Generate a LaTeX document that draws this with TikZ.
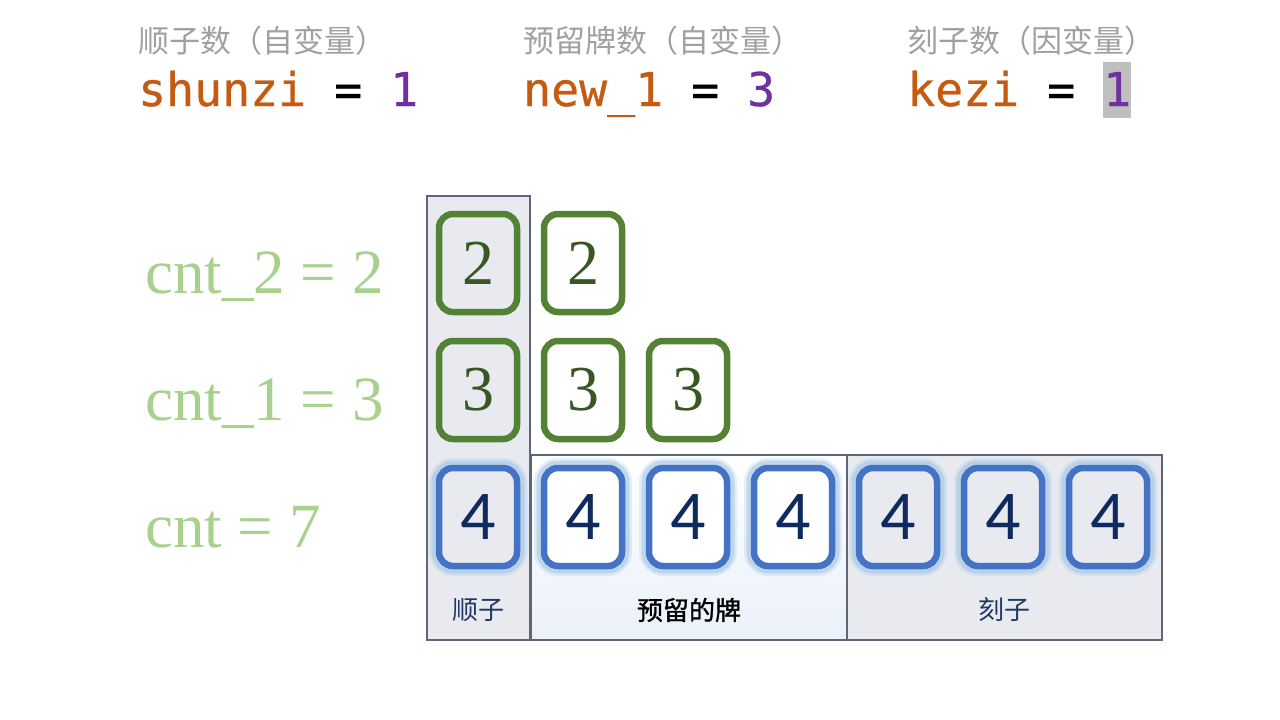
\documentclass[tikz,border=0pt]{standalone}
\usepackage{fontspec}
\setmainfont{Liberation Serif}
\newfontfamily\cjk{Noto Sans CJK SC}
\newfontfamily\cjkbold[FakeBold=1.2]{Noto Sans CJK SC}
\newfontfamily\codefont[FakeBold=0.6]{DejaVu Sans Mono}
\newfontfamily\tilefont{Carlito}
\usepackage{xcolor}
\definecolor{labelgray}{HTML}{A0A0A0}
\definecolor{varorange}{HTML}{C55A11}
\definecolor{numpurple}{HTML}{7030A0}
\definecolor{hlgray}{HTML}{BFBFBF}
\definecolor{cntgreen}{HTML}{A9D18E}
\definecolor{tilegreen}{HTML}{548235}
\definecolor{digitgreen}{HTML}{385723}
\definecolor{tileblue}{HTML}{4472C4}
\definecolor{glowblue}{HTML}{9DC3E6}
\definecolor{digitblue}{HTML}{0F2A5E}
\definecolor{panelgray}{HTML}{E8EAF0}
\definecolor{paneltint}{HTML}{EAF1FA}
\definecolor{panelline}{HTML}{5F6677}
\definecolor{navy}{HTML}{1F3864}
\tikzset{
  toplabel/.style={anchor=base west, inner sep=0pt, text=labelgray, font=\cjk\fontsize{31}{36}\selectfont},
  codeline/.style={anchor=base west, inner sep=0pt, font=\codefont\fontsize{46.5}{56}\selectfont},
  cntlabel/.style={anchor=base west, inner sep=0pt, text=cntgreen, font=\fontsize{63}{70}\selectfont},
  panel/.style={draw=panelline, line width=1.2pt},
  tile/.style={draw, rounded corners=14pt, line width=6.5pt, minimum width=78pt, minimum height=98pt, inner sep=0pt},
  greentile/.style={tile, draw=tilegreen, text=digitgreen, font=\fontsize{64}{66}\selectfont},
  bluetile/.style={tile, draw=tileblue, text=digitblue, font=\tilefont\fontsize{70}{72}\selectfont,
    preaction={draw=glowblue, line width=20pt, opacity=.25},
    preaction={draw=glowblue, line width=15pt, opacity=.5}},
  panellabel/.style={font=\cjk\fontsize{26}{30}\selectfont, inner sep=0pt}
}
\newcommand{\colx}[1]{478+105*(#1-1)}
\begin{document}
\begin{tikzpicture}[x=1pt,y=-1pt]
\useasboundingbox (0,0) rectangle (1280,720);
% variables at the top
\node[toplabel] (lshunzi) at (138,52) {顺子数（自变量）};
\node[toplabel] (lnew) at (523,52) {预留牌数（自变量）};
\node[toplabel] (lkezi) at (907,52) {刻子数（因变量）};
\node[codeline] (vshunzi) at (138,106) {\textcolor{varorange}{shunzi} = \textcolor{numpurple}{1}};
\node[codeline] (vnew) at (523,106) {\textcolor{varorange}{new\_1} = \textcolor{numpurple}{3}};
\node[codeline] (vkezi) at (907,106) {\textcolor{varorange}{kezi} = {\setlength{\fboxsep}{0pt}\colorbox{hlgray}{\rule[-12pt]{0pt}{56pt}\textcolor{numpurple}{1}}}};
% counters
\node[cntlabel] (c2) at (145,293) {cnt\_2 = 2};
\node[cntlabel] (c1) at (145,420) {cnt\_1 = 3};
\node[cntlabel] (c0) at (145,547) {cnt = 7};
% panels
\fill[panelgray] (427,196) rectangle (530,640);
\shade[top color=white, bottom color=paneltint] (531,455) rectangle (847,640);
\fill[panelgray] (847,455) rectangle (1162,640);
\draw[panel] (427,196) rectangle (530,640);
\draw[panel] (531,455) rectangle (847,640);
\draw[panel] (847,455) rectangle (1162,640);
% tiles
\node[greentile, fill=panelgray] (t21) at ({\colx{1}},263) {2};
\node[greentile, fill=white] (t22) at ({\colx{2}},263) {2};
\foreach \c/\f in {1/panelgray,2/white,3/white}
  \node[greentile, fill=\f] (t3\c) at ({\colx{\c}},390) {3};
\foreach \c/\f in {1/panelgray,2/white,3/white,4/white,5/panelgray,6/panelgray,7/panelgray}
  \node[bluetile, fill=\f] (t4\c) at ({\colx{\c}},517) {4};
% panel names
\node[panellabel, text=navy] (nshunzi) at (478,610) {顺子};
\node[panellabel, font=\cjkbold\fontsize{26}{30}\selectfont] (nnew) at (689,610) {预留的牌};
\node[panellabel, text=navy] (nkezi) at (1004,610) {刻子};
\end{tikzpicture}
\end{document}
